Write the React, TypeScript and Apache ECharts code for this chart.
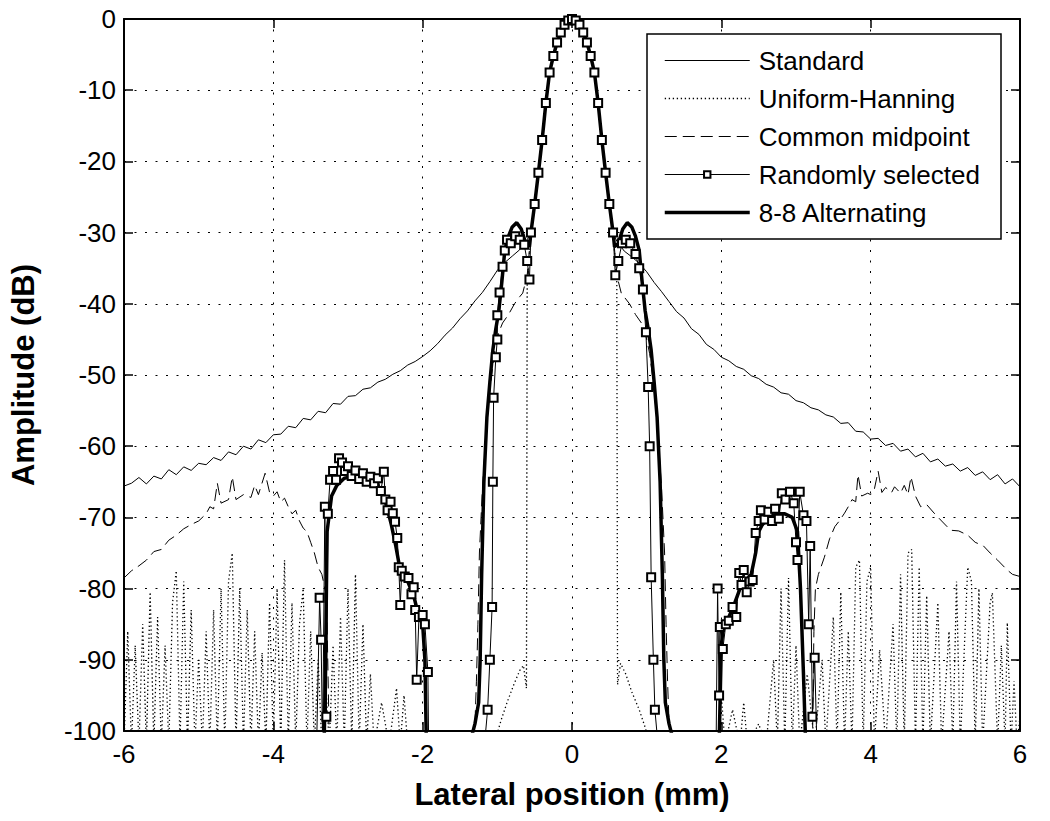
import React, { useEffect, useRef } from "react";
import * as echarts from "echarts";

const FONT = "'Liberation Sans', Arial, Helvetica, sans-serif";

const seriesNames = ["Standard", "Uniform-Hanning", "Common midpoint", "Randomly selected", "8-8 Alternating"];

// shared main lobe (x in mm, amplitude in dB)
const mainLobe: number[][] = [
  [-0.55, -30], [-0.5, -26], [-0.45, -21.6], [-0.4, -17], [-0.35, -11.8], [-0.3, -7.5], [-0.25, -5.2],
  [-0.2, -3.3], [-0.15, -1.9], [-0.1, -0.8], [-0.05, -0.2], [0, 0], [0.05, -0.2], [0.1, -0.8], [0.15, -1.9],
  [0.2, -3.3], [0.25, -5.2], [0.3, -7.5], [0.35, -11.8], [0.4, -17], [0.45, -21.6], [0.5, -26], [0.55, -30],
];

// Standard
const standardLeft: number[][] = [
  [-6.0, -65.6], [-5.9, -65.2], [-5.8, -64.4], [-5.7, -65.3], [-5.6, -64.2], [-5.5, -64.6], [-5.4, -63.3],
  [-5.3, -64.0], [-5.2, -62.9], [-5.1, -63.4], [-5.0, -62.4], [-4.9, -62.6], [-4.8, -61.6], [-4.7, -62.0],
  [-4.6, -60.8], [-4.5, -61.2], [-4.4, -60.0], [-4.3, -60.4], [-4.2, -59.1], [-4.1, -59.5], [-4.0, -58.4],
  [-3.9, -58.3], [-3.8, -57.2], [-3.7, -57.4], [-3.6, -56.1], [-3.5, -56.3], [-3.4, -55.1], [-3.3, -55.3],
  [-3.2, -54.0], [-3.1, -54.1], [-3.0, -53.0], [-2.9, -52.9], [-2.8, -52.0], [-2.7, -51.8], [-2.6, -51.0],
  [-2.5, -50.6], [-2.4, -49.9], [-2.3, -49.4], [-2.2, -48.6], [-2.1, -48.1], [-2.0, -47.4], [-1.9, -46.6],
  [-1.8, -45.6], [-1.7, -44.4], [-1.6, -43.4], [-1.5, -42.1], [-1.4, -41.0], [-1.3, -39.6], [-1.2, -38.4],
  [-1.1, -36.9], [-1.0, -35.3], [-0.9, -34.2], [-0.8, -33.3], [-0.7, -32.4], [-0.6, -31.0],
];
const standardRight: number[][] = [
  [0.6, -31.2], [0.7, -32.6], [0.8, -33.4], [0.9, -34.3], [1.0, -35.5], [1.1, -37.0], [1.2, -38.3],
  [1.3, -39.7], [1.4, -41.1], [1.5, -42.0], [1.6, -43.5], [1.7, -44.3], [1.8, -45.7], [1.9, -46.4],
  [2.0, -47.5], [2.1, -48.0], [2.2, -48.8], [2.3, -49.2], [2.4, -50.1], [2.5, -50.5], [2.6, -51.3],
  [2.7, -51.7], [2.8, -52.5], [2.9, -52.7], [3.0, -53.6], [3.1, -53.9], [3.2, -54.6], [3.3, -54.9],
  [3.4, -55.6], [3.5, -55.9], [3.6, -56.8], [3.7, -56.7], [3.8, -57.9], [3.9, -58.0], [4.0, -59.0],
  [4.1, -58.9], [4.2, -59.9], [4.3, -59.6], [4.4, -60.7], [4.5, -60.4], [4.6, -61.5], [4.7, -61.0],
  [4.8, -62.2], [4.9, -61.8], [5.0, -62.8], [5.1, -62.5], [5.2, -63.5], [5.3, -63.0], [5.4, -64.1],
  [5.5, -63.6], [5.6, -64.7], [5.7, -64.0], [5.8, -65.3], [5.9, -64.6], [6.0, -65.7],
];

// Uniform-Hanning
const hanningLeft: number[][] = [
  [-6.0, -102], [-5.95, -86], [-5.9, -102], [-5.85, -88], [-5.8, -102], [-5.75, -85], [-5.7, -102],
  [-5.65, -80.5], [-5.6, -102], [-5.55, -84], [-5.5, -102], [-5.45, -88], [-5.4, -102], [-5.35, -82],
  [-5.3, -77.5], [-5.25, -102], [-5.2, -79], [-5.15, -102], [-5.1, -83], [-5.05, -102], [-5.0, -90],
  [-4.95, -102], [-4.9, -86], [-4.85, -102], [-4.8, -83], [-4.75, -102], [-4.7, -80], [-4.65, -102],
  [-4.6, -79], [-4.55, -75], [-4.5, -102], [-4.45, -80], [-4.4, -102], [-4.35, -83], [-4.3, -102],
  [-4.25, -86], [-4.2, -102], [-4.15, -89], [-4.1, -102], [-4.05, -82], [-4.0, -102], [-3.95, -80],
  [-3.9, -102], [-3.85, -76], [-3.8, -102], [-3.75, -82], [-3.7, -102], [-3.65, -85], [-3.6, -80],
  [-3.55, -102], [-3.5, -86], [-3.45, -102], [-3.4, -90], [-3.35, -102], [-3.3, -93], [-3.25, -102],
  [-3.2, -88], [-3.15, -102], [-3.1, -84], [-3.05, -102], [-3.0, -80], [-2.95, -102], [-2.9, -78],
  [-2.85, -102], [-2.8, -85], [-2.75, -102], [-2.7, -92], [-2.65, -102], [-2.55, -96], [-2.45, -102],
  [-2.35, -94], [-2.3, -102], [-2.25, -95], [-2.2, -102],
  [-1.02, -101], [-0.95, -98.5], [-0.87, -96], [-0.78, -93.5], [-0.7, -91.5], [-0.65, -90.8],
  [-0.61, -94], [-0.6, -37],
];
const hanningRight: number[][] = [
  [0.6, -37], [0.61, -93.5], [0.65, -90.5], [0.72, -92], [0.8, -94.5], [0.9, -97], [0.98, -99.5],
  [1.02, -101], [1.95, -102], [2.0, -95], [2.05, -102], [2.15, -97], [2.25, -102], [2.3, -96],
  [2.35, -102], [2.5, -99], [2.6, -102], [2.7, -90], [2.75, -102], [2.8, -80], [2.85, -102],
  [2.9, -78.5], [2.95, -102], [3.0, -88], [3.05, -102], [3.15, -92], [3.25, -102], [3.35, -90],
  [3.4, -102], [3.5, -84], [3.55, -102], [3.6, -80.5], [3.65, -102], [3.7, -86], [3.75, -102],
  [3.8, -77], [3.85, -76], [3.9, -102], [3.95, -79], [4.0, -77], [4.05, -102], [4.12, -88.6],
  [4.2, -102], [4.3, -85], [4.35, -102], [4.4, -78], [4.45, -102], [4.5, -75], [4.55, -74.5],
  [4.6, -102], [4.65, -77], [4.7, -102], [4.75, -81], [4.8, -102], [4.9, -82], [4.95, -102],
  [5.05, -86], [5.1, -102], [5.15, -79], [5.2, -102], [5.3, -77], [5.35, -79], [5.4, -102],
  [5.45, -80], [5.5, -102], [5.6, -82], [5.63, -80.6], [5.7, -102], [5.75, -88], [5.8, -102],
  [5.83, -84.8], [5.88, -102], [5.92, -93], [5.96, -102], [6.0, -98],
];

// Common midpoint
const midpointLeft: number[][] = [
  [-6.0, -78.5], [-5.9, -77.5], [-5.8, -76.8], [-5.7, -76], [-5.6, -74.8], [-5.5, -74.5], [-5.4, -73.2],
  [-5.3, -72.5], [-5.2, -71.6], [-5.1, -71], [-5.0, -70.5], [-4.9, -69.5], [-4.85, -68.5], [-4.8, -68.8],
  [-4.75, -65.2], [-4.7, -68], [-4.6, -67.5], [-4.55, -64.3], [-4.5, -67.5], [-4.4, -66.8], [-4.3, -67.2],
  [-4.25, -65.5], [-4.2, -66.8], [-4.11, -63.8], [-4.05, -66.5], [-4.0, -67], [-3.95, -66.4], [-3.9, -67.8],
  [-3.85, -67.3], [-3.8, -68.5], [-3.75, -69.5], [-3.7, -69], [-3.65, -70.5], [-3.6, -71.5], [-3.55, -72],
  [-3.5, -73.5], [-3.45, -75], [-3.4, -77], [-3.35, -78], [-3.3, -80.5], [-3.28, -85], [-3.25, -102],
  [-1.35, -102], [-1.3, -99], [-1.28, -93], [-1.26, -85], [-1.24, -75], [-1.2, -66], [-1.15, -58],
  [-1.1, -52], [-1.04, -47], [-0.98, -44], [-0.93, -42.7], [-0.85, -41.5], [-0.77, -40], [-0.7, -39],
  [-0.66, -38.5], [-0.6, -36],
];
const midpointRight: number[][] = [
  [0.6, -36], [0.66, -38.5], [0.77, -40], [0.85, -41.5], [0.93, -42.7], [0.98, -44], [1.04, -47],
  [1.1, -52], [1.15, -58], [1.2, -66], [1.24, -75], [1.26, -85], [1.28, -93], [1.3, -99], [1.35, -102],
  [3.22, -102], [3.24, -86], [3.26, -80], [3.3, -78], [3.38, -75.6], [3.45, -73], [3.52, -71.3],
  [3.58, -70.5], [3.65, -69.4], [3.7, -68.5], [3.75, -67.5], [3.8, -67.8], [3.83, -64], [3.88, -67],
  [3.96, -66.6], [4.0, -66.8], [4.05, -66], [4.1, -63.5], [4.15, -66.5], [4.2, -65.8], [4.28, -66.5],
  [4.32, -65.7], [4.4, -66.6], [4.45, -65.5], [4.5, -66.8], [4.54, -64.3], [4.6, -67], [4.67, -68.5],
  [4.75, -68.2], [4.85, -69.4], [4.95, -70.5], [5.07, -71.8], [5.18, -71.9], [5.3, -72.5], [5.4, -73.5],
  [5.51, -74], [5.6, -75], [5.7, -76], [5.83, -77.4], [5.9, -78], [6.0, -78.3],
];

// Randomly selected
const randomLeft: number[][] = [
  [-3.42, -102], [-3.38, -81.3], [-3.36, -87.2], [-3.34, -102], [-3.31, -68.5], [-3.29, -98], [-3.27, -69.5],
  [-3.24, -64.7], [-3.2, -63.5], [-3.16, -64.7], [-3.12, -61.7], [-3.08, -62.3], [-3.04, -63.5], [-3.0, -62.8],
  [-2.95, -64.2], [-2.9, -63.4], [-2.85, -64.6], [-2.8, -63.8], [-2.75, -65], [-2.7, -64.3], [-2.65, -65.2],
  [-2.6, -64.5], [-2.56, -66.3], [-2.52, -63.6], [-2.5, -67.5], [-2.47, -69], [-2.43, -67.8], [-2.4, -69.4],
  [-2.37, -70.6], [-2.34, -72.9], [-2.32, -77], [-2.3, -82.3], [-2.28, -77.5], [-2.24, -78.3], [-2.19, -78.5],
  [-2.15, -80.8], [-2.12, -79.8], [-2.1, -83], [-2.08, -92.8], [-2.05, -84], [-2.0, -83.7], [-1.97, -85],
  [-1.93, -91.7], [-1.92, -102],
  [-1.2, -102], [-1.16, -100.5], [-1.13, -97], [-1.1, -90], [-1.07, -82.6], [-1.06, -65], [-1.05, -53.2],
  [-1.02, -47.5], [-1.0, -45], [-1.0, -41.6], [-0.97, -38.4], [-0.93, -34.8], [-0.9, -32.5], [-0.87, -31],
  [-0.82, -31.5], [-0.76, -30.5], [-0.7, -31], [-0.64, -31.7], [-0.6, -34], [-0.57, -36.6],
];
const randomRight: number[][] = [
  [0.58, -36], [0.62, -34], [0.67, -31.5], [0.72, -31], [0.78, -31.5], [0.85, -33], [0.9, -35],
  [0.95, -38], [0.99, -44], [1.02, -51.7], [1.04, -60], [1.06, -78.4], [1.09, -90], [1.11, -97],
  [1.14, -100.5], [1.18, -102],
  [1.93, -102], [1.95, -80], [1.97, -95], [1.98, -85.4], [2.02, -88.5], [2.06, -85], [2.1, -84.5],
  [2.15, -82.6], [2.2, -84], [2.24, -77.8], [2.27, -79.5], [2.3, -77.4], [2.34, -80.5], [2.38, -79],
  [2.42, -78.8], [2.46, -72.2], [2.5, -70.5], [2.53, -69], [2.58, -70.3], [2.63, -69.2], [2.68, -70.5],
  [2.72, -68.8], [2.77, -70.2], [2.81, -66.6], [2.86, -67.5], [2.92, -66.4], [2.97, -68], [3.0, -73.5],
  [3.02, -76], [3.05, -66.4], [3.1, -69.7], [3.14, -70.5], [3.17, -85], [3.19, -74], [3.22, -98],
  [3.25, -89.7], [3.28, -102],
];

// 8-8 Alternating
const alternatingLeft: number[][] = [
  [-3.32, -102], [-3.3, -90], [-3.28, -72], [-3.22, -67], [-3.15, -65.5], [-3.05, -64.5], [-2.95, -64.3],
  [-2.85, -64.8], [-2.75, -65], [-2.65, -65.5], [-2.55, -66], [-2.48, -68.5], [-2.42, -71], [-2.36, -74],
  [-2.3, -77.5], [-2.2, -79], [-2.12, -81], [-2.05, -84], [-2.0, -85], [-1.97, -90], [-1.95, -102],
  [-1.35, -101], [-1.3, -99], [-1.25, -96], [-1.23, -90], [-1.21, -78], [-1.18, -65], [-1.14, -56],
  [-1.1, -51], [-1.06, -46.5], [-1.02, -43.5], [-0.98, -41], [-0.94, -37], [-0.9, -32.5], [-0.85, -30.5],
  [-0.8, -29.2], [-0.74, -28.6], [-0.68, -29.5], [-0.62, -31.5], [-0.57, -32],
];
const alternatingRight: number[][] = [
  [0.57, -32], [0.62, -31.5], [0.68, -29.5], [0.74, -28.6], [0.8, -29.2], [0.85, -30.5], [0.9, -32.5],
  [0.94, -37], [0.98, -41], [1.02, -43.5], [1.06, -46.5], [1.1, -51], [1.14, -56], [1.18, -65],
  [1.21, -78], [1.23, -90], [1.25, -96], [1.3, -99], [1.35, -101],
  [1.97, -102], [2.0, -88], [2.03, -85], [2.1, -84], [2.18, -82], [2.25, -80], [2.32, -79], [2.4, -78],
  [2.46, -75], [2.5, -72], [2.55, -71], [2.65, -70], [2.75, -69.5], [2.85, -69.5], [2.95, -70],
  [3.02, -72], [3.06, -80], [3.1, -92], [3.13, -102],
];

const join = (l: number[][], r: number[][]) => [...l, ...mainLobe, ...r];

export default function App() {
  const ref = useRef<HTMLDivElement>(null);
  useEffect(() => {
    if (!ref.current) return;
    const chart = echarts.init(ref.current, null, { renderer: "svg" });
    const axisText = { color: "#000", fontFamily: FONT, fontSize: 26 };
    const gridLine = { show: true, lineStyle: { color: "#000", width: 1, type: [2, 8.5] as any } };
    const frame = { show: true, onZero: false, lineStyle: { color: "#000", width: 2 } };
    const tick = { show: true, inside: true, length: 9, lineStyle: { color: "#000", width: 1.5 } };
    const base = { type: "line", xAxisIndex: 0, yAxisIndex: 0, symbol: "none", clip: true, silent: true };
    const hidden = { opacity: 0 };
    chart.setOption({
      animation: false,
      backgroundColor: "#fff",
      grid: { left: 116, right: 30, top: 19, bottom: 90, containLabel: false },
      xAxis: [
        {
          type: "value", min: -6, max: 6, interval: 2, position: "bottom",
          axisLine: frame, axisTick: tick, splitLine: gridLine,
          axisLabel: { ...axisText, margin: 10 },
          name: "Lateral position (mm)", nameLocation: "middle", nameGap: 48,
          nameTextStyle: { color: "#000", fontFamily: FONT, fontSize: 31, fontWeight: "bold" },
        },
        {
          type: "value", min: -6, max: 6, interval: 2, position: "top",
          axisLine: frame, axisTick: tick, splitLine: { show: false }, axisLabel: { show: false },
        },
      ],
      yAxis: [
        {
          type: "value", min: -100, max: 0, interval: 10, position: "left",
          axisLine: frame, axisTick: tick, splitLine: gridLine,
          axisLabel: { ...axisText, margin: 8 },
          name: "Amplitude (dB)", nameLocation: "middle", nameGap: 85, nameRotate: 90,
          nameTextStyle: { color: "#000", fontFamily: FONT, fontSize: 31, fontWeight: "bold" },
        },
        {
          type: "value", min: -100, max: 0, interval: 10, position: "right",
          axisLine: frame, axisTick: tick, splitLine: { show: false }, axisLabel: { show: false },
        },
      ],
      graphic: [
        {
          type: "rect", z: 5, silent: true,
          shape: { x: 647, y: 34, width: 354, height: 205 },
          style: { fill: "#fff", stroke: "#000", lineWidth: 1.5 },
        },
      ],
      legend: {
        show: true, orient: "vertical", left: 663, top: 45.5, padding: 0, z: 10,
        itemWidth: 85, itemHeight: 8, itemGap: 8, selectedMode: false,
        textStyle: { color: "#000", fontFamily: FONT, fontSize: 26, lineHeight: 30, padding: [0, 0, 0, 4] },
        data: [
          { name: seriesNames[0], itemStyle: hidden, lineStyle: { width: 1 } },
          { name: seriesNames[1], itemStyle: hidden, lineStyle: { width: 1.3 } },
          { name: seriesNames[2], itemStyle: hidden, lineStyle: { width: 1 } },
          { name: seriesNames[3], lineStyle: { width: 1 } },
          { name: seriesNames[4], itemStyle: hidden, lineStyle: { width: 3.5 } },
        ],
      },
      series: [
        { ...base, name: seriesNames[0], data: join(standardLeft, standardRight),
          lineStyle: { color: "#000", width: 1 }, itemStyle: { color: "#000" } },
        { ...base, name: seriesNames[1], data: join(hanningLeft, hanningRight),
          lineStyle: { color: "#000", width: 1.3, type: [1.3, 2.7] }, itemStyle: { color: "#000" } },
        { ...base, name: seriesNames[2], data: join(midpointLeft, midpointRight),
          lineStyle: { color: "#000", width: 1, type: [12, 6] }, itemStyle: { color: "#000" } },
        { ...base, name: seriesNames[3], data: join(randomLeft, randomRight),
          symbol: "emptyRect", symbolSize: 8, showSymbol: true, showAllSymbol: true,
          lineStyle: { color: "#000", width: 1 }, itemStyle: { color: "#000", borderColor: "#000", borderWidth: 1 } },
        { ...base, name: seriesNames[4], data: join(alternatingLeft, alternatingRight),
          lineStyle: { color: "#000", width: 3.5 }, itemStyle: { color: "#000" } },
      ],
    });
    return () => chart.dispose();
  }, []);
  return (
    <div
      ref={ref}
      style={{ position: "absolute", left: 0, top: 0, width: 1050, height: 821, background: "#fff" }}
    />
  );
}
